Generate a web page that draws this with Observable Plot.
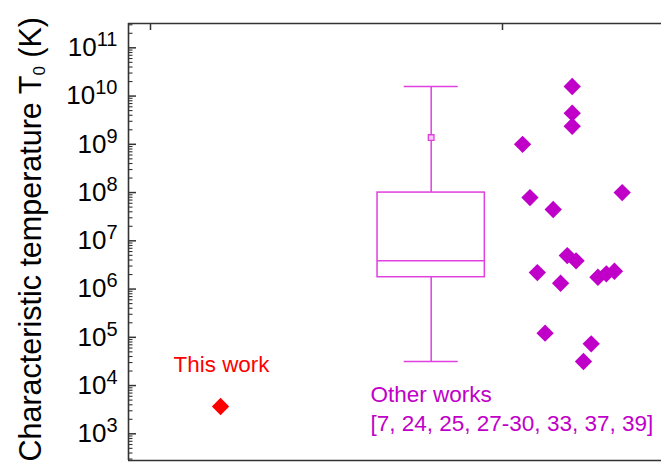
<!DOCTYPE html>
<html>
<head>
<meta charset="utf-8">
<script src="https://cdn.jsdelivr.net/npm/d3@7"></script>
<script src="https://cdn.jsdelivr.net/npm/@observablehq/plot@0.6"></script>
<style>
  html, body { margin: 0; padding: 0; background: #ffffff; }
  #chart svg { display: block; }
</style>
</head>
<body>
<div id="chart"></div>
<script>
// ---------- data ----------
const categories = ["This work", "Other works"];
const references = "[7, 24, 25, 27-30, 33, 37, 39]";

const thisWorkX  = [0.199];
const thisWorkT0 = [3.68e3];

const otherX  = [1.198, 1.198, 1.198, 1.057, 1.078, 1.144, 1.340, 1.184, 1.209,
                 1.099, 1.165, 1.271, 1.295, 1.318, 1.121, 1.252, 1.230];
const otherT0 = [1.58e10, 4.42e9, 2.37e9, 1.00e9, 7.89e7, 4.46e7, 1.00e8, 4.95e6, 3.85e6,
                 2.20e6, 1.32e6, 1.76e6, 2.07e6, 2.34e6, 1.22e5, 7.33e4, 3.15e4];

// box chart statistics of "Other works"
const boxStatNames  = ["min", "q1", "median", "q3", "max", "mean"];
const boxStatValues = [3.15e4, 1.76e6, 3.85e6, 1.00e8, 1.58e10, 1.38e9];

const yTickExponents = [3, 4, 5, 6, 7, 8, 9, 10, 11];
const xTickValues = [0, 1];

// ---------- layout / style ----------
const FONT = "'Liberation Sans', Arial, Helvetica, sans-serif";
const frameColor = "#333333";
const boxColor = "#e040e0";
const pointColor = "#c000c8";
const redColor = "#ff0000";

const W = 661, H = 462, ML = 128, MR = 0, MT = 23, MB = 2;
const plotW = W - ML - MR, plotH = H - MT - MB;

const logLo = 2.447, logHi = 11.504;
const xDomain = [-0.0625, 1.4517];
const yDomain = [Math.pow(10, logLo), Math.pow(10, logHi)];

// tick lengths expressed through the scales (pixels -> data units)
const xPerPx = (xDomain[1] - xDomain[0]) / plotW;
const decPerPx = (logHi - logLo) / plotH;
const majorLen = 8, minorLen = 4.5, topLen = 7;

const majors = yTickExponents.map(e => Math.pow(10, e));
const minors = [];
for (let e = 2; e <= 11; e++) {
  for (let m = 2; m <= 9; m++) {
    const v = m * Math.pow(10, e);
    if (v >= yDomain[0] && v <= yDomain[1]) minors.push(v);
  }
}

const stat = Object.fromEntries(boxStatNames.map((n, i) => [n, boxStatValues[i]]));
const boxCenter = 0.7974, boxHalf = 0.1524, capHalf = 0.0767;

const thisData  = thisWorkX.map((x, i) => ({x, y: thisWorkT0[i]}));
const otherData = otherX.map((x, i) => ({x, y: otherT0[i]}));

const svg = Plot.plot({
  width: W,
  height: H,
  marginLeft: ML,
  marginRight: MR,
  marginTop: MT,
  marginBottom: MB,
  style: {fontFamily: FONT, background: "#ffffff", color: "#000000", overflow: "visible"},
  x: {type: "linear", domain: xDomain, axis: null},
  y: {type: "log", domain: yDomain, axis: null},
  marks: [
    // box chart
    Plot.ruleX([stat], {x: () => boxCenter, y1: "q3", y2: "max", stroke: boxColor, strokeWidth: 1.5}),
    Plot.ruleX([stat], {x: () => boxCenter, y1: "min", y2: "q1", stroke: boxColor, strokeWidth: 1.5}),
    Plot.ruleY([stat.max, stat.min], {x1: boxCenter - capHalf, x2: boxCenter + capHalf, stroke: boxColor, strokeWidth: 1.5}),
    Plot.rect([stat], {x1: () => boxCenter - boxHalf, x2: () => boxCenter + boxHalf, y1: "q1", y2: "q3",
                       fill: "none", stroke: boxColor, strokeWidth: 1.5}),
    Plot.ruleY([stat.median], {x1: boxCenter - boxHalf, x2: boxCenter + boxHalf, stroke: boxColor, strokeWidth: 1.5}),
    Plot.dot([stat], {x: () => boxCenter, y: "mean", symbol: "square", r: 3.2, fill: "#f6c8f6", stroke: boxColor, strokeWidth: 1.3}),

    // points
    Plot.dot(otherData, {x: "x", y: "y", symbol: "diamond2", r: 7.8, fill: pointColor, stroke: "none"}),
    Plot.dot(thisData, {x: "x", y: "y", symbol: "diamond2", r: 7.8, fill: redColor, stroke: "none"}),

    // labels
    Plot.text([categories[0]], {x: () => 0.2017, y: () => 1.87e4, text: d => d, fill: redColor,
                                fontSize: 22.4, textAnchor: "middle", lineAnchor: "bottom"}),
    Plot.text([categories[1] + "\n" + references], {x: () => 0.625, y: () => 1.13e3, text: d => d,
                                fill: pointColor, fontSize: 22.5, textAnchor: "start", lineAnchor: "bottom",
                                lineHeight: 29 / 22.5}),

    // y tick labels (exponent turned into a superscript below)
    Plot.text(majors, {y: d => d, frameAnchor: "left", dx: -11, textAnchor: "end", fontSize: 26, fill: "#000",
                       text: d => String(Math.round(Math.log10(d))), className: "ytl"}),

    // inward y ticks on the left edge
    Plot.ruleY(minors, {y: d => d, x1: xDomain[0], x2: xDomain[0] + minorLen * xPerPx,
                        stroke: frameColor, strokeWidth: 1.1}),
    Plot.ruleY(majors, {y: d => d, x1: xDomain[0], x2: xDomain[0] + majorLen * xPerPx,
                        stroke: frameColor, strokeWidth: 1.5}),
    // inward x ticks on the top edge
    Plot.ruleX(xTickValues, {x: d => d, y1: yDomain[1], y2: Math.pow(10, logHi - topLen * decPerPx),
                             stroke: frameColor, strokeWidth: 1.5}),
    // frame lines
    Plot.ruleX([xDomain[0]], {stroke: frameColor, strokeWidth: 1.6}),
    Plot.ruleY([yDomain[1]], {stroke: frameColor, strokeWidth: 1.6}),
    Plot.ruleY([yDomain[0]], {stroke: frameColor, strokeWidth: 1.6})
  ]
});

// superscript exponents on the y tick labels
const NS = "http://www.w3.org/2000/svg";
svg.querySelectorAll('.ytl text').forEach(t => {
  const e = t.textContent;
  if (!e) return;
  t.textContent = "10";
  const s = document.createElementNS(NS, "tspan");
  s.setAttribute("dy", "-10");
  s.setAttribute("font-size", "20");
  s.textContent = e;
  t.appendChild(s);
});

// y-axis title with subscript
const title = document.createElementNS(NS, "text");
title.setAttribute("transform", "translate(41,17) rotate(-90)");
title.setAttribute("text-anchor", "end");
title.setAttribute("font-size", "30.5");
title.setAttribute("font-family", FONT);
title.setAttribute("fill", "#000");
title.appendChild(document.createTextNode("Characteristic temperature T"));
const sub = document.createElementNS(NS, "tspan");
sub.setAttribute("dy", "4");
sub.setAttribute("font-size", "17");
sub.textContent = "0";
title.appendChild(sub);
const rest = document.createElementNS(NS, "tspan");
rest.setAttribute("dy", "-4");
rest.textContent = " (K)";
title.appendChild(rest);
svg.appendChild(title);

document.getElementById("chart").appendChild(svg);
</script>
</body>
</html>
